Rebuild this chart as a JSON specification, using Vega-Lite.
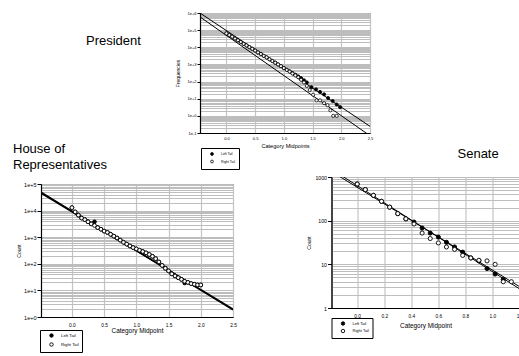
{
  "$schema": "https://vega.github.io/schema/vega-lite/v6.json",
  "padding": {"left": 12, "top": 10, "right": 0, "bottom": 0},
  "background": "white",
  "config": {
    "font": "Liberation Sans",
    "view": {"stroke": "#555555", "strokeWidth": 1},
    "axis": {"labelColor": "black", "titleColor": "black", "titleFontWeight": "normal", "domainColor": "black", "domainWidth": 1.2, "tickColor": "black", "tickWidth": 1, "labelFlush": false, "labelOverlap": false, "labelBound": false, "labelFont": "Liberation Sans", "titleFont": "Liberation Sans"},
    "title": {"fontWeight": "normal", "fontSize": 13, "color": "black", "font": "Liberation Sans"},
    "legend": {"labelColor": "black", "labelFont": "Liberation Sans"}
  },
  "datasets": {
    "presPts": [
      {"x":0,"count":64570,"tail":"Left Tail"},{"x":0.05,"count":51290,"tail":"Left Tail"},{"x":0.1,"count":41690,"tail":"Left Tail"},{"x":0.15,"count":32360,"tail":"Left Tail"},{"x":0.2,"count":25700,"tail":"Left Tail"},{"x":0.25,"count":20420,"tail":"Left Tail"},{"x":0.3,"count":15850,"tail":"Left Tail"},{"x":0.35,"count":12880,"tail":"Left Tail"},{"x":0.4,"count":10230,"tail":"Left Tail"},{"x":0.45,"count":8128,"tail":"Left Tail"},{"x":0.5,"count":6457,"tail":"Left Tail"},{"x":0.55,"count":5012,"tail":"Left Tail"},{"x":0.6,"count":4074,"tail":"Left Tail"},{"x":0.65,"count":3162,"tail":"Left Tail"},{"x":0.7,"count":2570,"tail":"Left Tail"},{"x":0.75,"count":1995,"tail":"Left Tail"},{"x":0.8,"count":1585,"tail":"Left Tail"},{"x":0.85,"count":1259,"tail":"Left Tail"},{"x":0.9,"count":1000,"tail":"Left Tail"},{"x":0.95,"count":794,"tail":"Left Tail"},{"x":1.0,"count":617,"tail":"Left Tail"},{"x":1.05,"count":490,"tail":"Left Tail"},{"x":1.1,"count":398,"tail":"Left Tail"},{"x":1.15,"count":316,"tail":"Left Tail"},{"x":1.2,"count":251,"tail":"Left Tail"},{"x":1.25,"count":200,"tail":"Left Tail"},{"x":1.3,"count":158,"tail":"Left Tail"},{"x":1.35,"count":120,"tail":"Left Tail"},{"x":1.4,"count":89,"tail":"Left Tail"},{"x":1.48,"count":47,"tail":"Left Tail"},{"x":1.56,"count":35,"tail":"Left Tail"},{"x":1.63,"count":25,"tail":"Left Tail"},{"x":1.7,"count":18,"tail":"Left Tail"},{"x":1.77,"count":11,"tail":"Left Tail"},{"x":1.85,"count":7.4,"tail":"Left Tail"},{"x":1.92,"count":4.6,"tail":"Left Tail"},{"x":1.98,"count":3.2,"tail":"Left Tail"},
      {"x":0,"count":64570,"tail":"Right Tail"},{"x":0.05,"count":51290,"tail":"Right Tail"},{"x":0.1,"count":41690,"tail":"Right Tail"},{"x":0.15,"count":32360,"tail":"Right Tail"},{"x":0.2,"count":25700,"tail":"Right Tail"},{"x":0.25,"count":20420,"tail":"Right Tail"},{"x":0.3,"count":15850,"tail":"Right Tail"},{"x":0.35,"count":12880,"tail":"Right Tail"},{"x":0.4,"count":10230,"tail":"Right Tail"},{"x":0.45,"count":8128,"tail":"Right Tail"},{"x":0.5,"count":6457,"tail":"Right Tail"},{"x":0.55,"count":5012,"tail":"Right Tail"},{"x":0.6,"count":4074,"tail":"Right Tail"},{"x":0.65,"count":3162,"tail":"Right Tail"},{"x":0.7,"count":2570,"tail":"Right Tail"},{"x":0.75,"count":1995,"tail":"Right Tail"},{"x":0.8,"count":1585,"tail":"Right Tail"},{"x":0.85,"count":1259,"tail":"Right Tail"},{"x":0.9,"count":1000,"tail":"Right Tail"},{"x":0.95,"count":794,"tail":"Right Tail"},{"x":1.0,"count":617,"tail":"Right Tail"},{"x":1.05,"count":479,"tail":"Right Tail"},{"x":1.1,"count":380,"tail":"Right Tail"},{"x":1.15,"count":295,"tail":"Right Tail"},{"x":1.2,"count":229,"tail":"Right Tail"},{"x":1.25,"count":178,"tail":"Right Tail"},{"x":1.3,"count":126,"tail":"Right Tail"},{"x":1.35,"count":89,"tail":"Right Tail"},{"x":1.4,"count":56,"tail":"Right Tail"},{"x":1.45,"count":32,"tail":"Right Tail"},{"x":1.51,"count":17,"tail":"Right Tail"},{"x":1.57,"count":8,"tail":"Right Tail"},{"x":1.63,"count":8,"tail":"Right Tail"},{"x":1.7,"count":5.5,"tail":"Right Tail"},{"x":1.76,"count":4.2,"tail":"Right Tail"},{"x":1.81,"count":2.1,"tail":"Right Tail"},{"x":1.86,"count":1,"tail":"Right Tail"},{"x":1.92,"count":1,"tail":"Right Tail"}
    ],
    "presFit": [
      {"x":-0.46,"count":1000000,"fit":"a"},{"x":2.5,"count":0.245,"fit":"a"},
      {"x":-0.46,"count":588800,"fit":"b"},{"x":2.5,"count":0.0692,"fit":"b"}
    ],
    "housePts": [
      {"x":0,"count":12880,"tail":"Left Tail"},{"x":0.05,"count":8913,"tail":"Left Tail"},{"x":0.1,"count":6761,"tail":"Left Tail"},{"x":0.15,"count":5248,"tail":"Left Tail"},{"x":0.2,"count":4571,"tail":"Left Tail"},{"x":0.25,"count":3802,"tail":"Left Tail"},{"x":0.3,"count":3162,"tail":"Left Tail"},{"x":0.35,"count":3802,"tail":"Left Tail"},{"x":0.4,"count":2291,"tail":"Left Tail"},{"x":0.45,"count":1995,"tail":"Left Tail"},{"x":0.5,"count":1698,"tail":"Left Tail"},{"x":0.55,"count":1514,"tail":"Left Tail"},{"x":0.6,"count":1288,"tail":"Left Tail"},{"x":0.65,"count":1096,"tail":"Left Tail"},{"x":0.7,"count":933,"tail":"Left Tail"},{"x":0.75,"count":776,"tail":"Left Tail"},{"x":0.8,"count":646,"tail":"Left Tail"},{"x":0.85,"count":550,"tail":"Left Tail"},{"x":0.9,"count":468,"tail":"Left Tail"},{"x":0.95,"count":407,"tail":"Left Tail"},{"x":1.0,"count":363,"tail":"Left Tail"},{"x":1.05,"count":324,"tail":"Left Tail"},{"x":1.1,"count":288,"tail":"Left Tail"},{"x":1.15,"count":257,"tail":"Left Tail"},{"x":1.2,"count":224,"tail":"Left Tail"},{"x":1.25,"count":191,"tail":"Left Tail"},{"x":1.3,"count":155,"tail":"Left Tail"},{"x":1.35,"count":117,"tail":"Left Tail"},{"x":1.4,"count":87,"tail":"Left Tail"},{"x":1.45,"count":68,"tail":"Left Tail"},{"x":1.5,"count":54,"tail":"Left Tail"},{"x":1.55,"count":42,"tail":"Left Tail"},{"x":1.6,"count":35,"tail":"Left Tail"},{"x":1.65,"count":30,"tail":"Left Tail"},{"x":1.7,"count":26,"tail":"Left Tail"},{"x":1.75,"count":19,"tail":"Left Tail"},{"x":1.8,"count":20,"tail":"Left Tail"},{"x":1.85,"count":18,"tail":"Left Tail"},{"x":1.9,"count":17,"tail":"Left Tail"},{"x":1.95,"count":16,"tail":"Left Tail"},{"x":2.0,"count":16,"tail":"Left Tail"},
      {"x":0,"count":12880,"tail":"Right Tail"},{"x":0.05,"count":8913,"tail":"Right Tail"},{"x":0.1,"count":6761,"tail":"Right Tail"},{"x":0.15,"count":5248,"tail":"Right Tail"},{"x":0.2,"count":4571,"tail":"Right Tail"},{"x":0.25,"count":3802,"tail":"Right Tail"},{"x":0.3,"count":3162,"tail":"Right Tail"},{"x":0.35,"count":2754,"tail":"Right Tail"},{"x":0.4,"count":2291,"tail":"Right Tail"},{"x":0.45,"count":1995,"tail":"Right Tail"},{"x":0.5,"count":1698,"tail":"Right Tail"},{"x":0.55,"count":1514,"tail":"Right Tail"},{"x":0.6,"count":1288,"tail":"Right Tail"},{"x":0.65,"count":1096,"tail":"Right Tail"},{"x":0.7,"count":933,"tail":"Right Tail"},{"x":0.75,"count":776,"tail":"Right Tail"},{"x":0.8,"count":646,"tail":"Right Tail"},{"x":0.85,"count":550,"tail":"Right Tail"},{"x":0.9,"count":468,"tail":"Right Tail"},{"x":0.95,"count":407,"tail":"Right Tail"},{"x":1.0,"count":363,"tail":"Right Tail"},{"x":1.05,"count":324,"tail":"Right Tail"},{"x":1.1,"count":288,"tail":"Right Tail"},{"x":1.15,"count":257,"tail":"Right Tail"},{"x":1.2,"count":224,"tail":"Right Tail"},{"x":1.25,"count":191,"tail":"Right Tail"},{"x":1.3,"count":155,"tail":"Right Tail"},{"x":1.35,"count":117,"tail":"Right Tail"},{"x":1.4,"count":87,"tail":"Right Tail"},{"x":1.45,"count":68,"tail":"Right Tail"},{"x":1.5,"count":54,"tail":"Right Tail"},{"x":1.55,"count":42,"tail":"Right Tail"},{"x":1.6,"count":35,"tail":"Right Tail"},{"x":1.65,"count":30,"tail":"Right Tail"},{"x":1.7,"count":26,"tail":"Right Tail"},{"x":1.75,"count":22,"tail":"Right Tail"},{"x":1.8,"count":20,"tail":"Right Tail"},{"x":1.85,"count":18,"tail":"Right Tail"},{"x":1.9,"count":17,"tail":"Right Tail"},{"x":1.95,"count":16,"tail":"Right Tail"},{"x":2.0,"count":16,"tail":"Right Tail"}
    ],
    "houseFit": [
      {"x":-0.48,"count":48980,"fit":"a"},{"x":2.5,"count":1.862,"fit":"a"},
      {"x":-0.48,"count":45709,"fit":"b"},{"x":2.5,"count":1.995,"fit":"b"}
    ],
    "senPts": [
      {"x":0,"count":690,"tail":"Left Tail"},{"x":0.06,"count":515,"tail":"Left Tail"},{"x":0.12,"count":380,"tail":"Left Tail"},{"x":0.18,"count":277,"tail":"Left Tail"},{"x":0.24,"count":204,"tail":"Left Tail"},{"x":0.3,"count":145,"tail":"Left Tail"},{"x":0.36,"count":110,"tail":"Left Tail"},{"x":0.42,"count":93,"tail":"Left Tail"},{"x":0.48,"count":68,"tail":"Left Tail"},{"x":0.54,"count":52,"tail":"Left Tail"},{"x":0.6,"count":42,"tail":"Left Tail"},{"x":0.66,"count":32,"tail":"Left Tail"},{"x":0.72,"count":25,"tail":"Left Tail"},{"x":0.78,"count":19,"tail":"Left Tail"},{"x":0.84,"count":14,"tail":"Left Tail"},{"x":0.9,"count":12,"tail":"Left Tail"},{"x":0.96,"count":8,"tail":"Left Tail"},{"x":1.02,"count":6,"tail":"Left Tail"},{"x":1.08,"count":4.5,"tail":"Left Tail"},
      {"x":0,"count":690,"tail":"Right Tail"},{"x":0.06,"count":515,"tail":"Right Tail"},{"x":0.12,"count":380,"tail":"Right Tail"},{"x":0.18,"count":277,"tail":"Right Tail"},{"x":0.24,"count":204,"tail":"Right Tail"},{"x":0.3,"count":145,"tail":"Right Tail"},{"x":0.36,"count":110,"tail":"Right Tail"},{"x":0.42,"count":84,"tail":"Right Tail"},{"x":0.48,"count":52,"tail":"Right Tail"},{"x":0.54,"count":39,"tail":"Right Tail"},{"x":0.6,"count":31,"tail":"Right Tail"},{"x":0.66,"count":25,"tail":"Right Tail"},{"x":0.72,"count":22,"tail":"Right Tail"},{"x":0.78,"count":16,"tail":"Right Tail"},{"x":0.84,"count":14,"tail":"Right Tail"},{"x":0.9,"count":12.4,"tail":"Right Tail"},{"x":0.96,"count":12,"tail":"Right Tail"},{"x":1.02,"count":10,"tail":"Right Tail"},{"x":1.08,"count":4,"tail":"Right Tail"},{"x":1.14,"count":4,"tail":"Right Tail"}
    ],
    "senFit": [
      {"x":-0.19,"count":1334,"fit":"a"},{"x":1.2,"count":3.09,"fit":"a"},
      {"x":-0.19,"count":1503,"fit":"b"},{"x":1.2,"count":2.75,"fit":"b"}
    ]
  },
  "bounds": "flush",
  "spacing": 164,
  "resolve": {"scale": {"fill": "independent"}, "legend": {"fill": "independent"}},
  "vconcat": [
    {
      "bounds": "flush",
      "spacing": 0,
      "resolve": {"scale": {"fill": "independent"}, "legend": {"fill": "independent"}},
      "hconcat": [
        {"width": 159, "height": 1, "data": {"values": []}, "mark": {"type": "point", "opacity": 0}, "view": {"stroke": null}},
        {
          "width": 170, "height": 120,
          "title": {"text": "President", "anchor": "start", "frame": "group", "dx": -114, "dy": 37, "offset": 0},
          "encoding": {
            "x": {"field": "x", "type": "quantitative", "scale": {"domain": [-0.46, 2.5], "nice": false, "zero": false},
              "axis": {"values": [0, 0.5, 1, 1.5, 2, 2.5], "format": ".1f", "title": "Category Midpoints", "titleFontSize": 5.6, "labelFontSize": 4, "ticks": false, "labelPadding": 3, "titlePadding": 3, "grid": true, "gridColor": "#c4c4c4", "gridWidth": 1.2}},
            "y": {"field": "count", "type": "quantitative", "scale": {"type": "log", "domain": [0.1, 1000000], "nice": false},
              "axis": {"values": [0.1,0.2,0.3,0.4,0.5,0.6,0.7,0.8,0.9,1,2,3,4,5,6,7,8,9,10,20,30,40,50,60,70,80,90,100,200,300,400,500,600,700,800,900,1000,2000,3000,4000,5000,6000,7000,8000,9000,10000,20000,30000,40000,50000,60000,70000,80000,90000,100000,200000,300000,400000,500000,600000,700000,800000,900000,1000000],
                "labelExpr": "abs(log(datum.value)/LN10 - round(log(datum.value)/LN10)) < 0.001 ? '1e' + (datum.value < 1 ? '-' : '+') + abs(round(log(datum.value)/LN10)) : ''",
                "tickOpacity": {"condition": {"test": "abs(log(datum.value)/LN10 - round(log(datum.value)/LN10)) < 0.001", "value": 1}, "value": 0},
                "tickSize": 3, "labelPadding": 1, "labelFontSize": 4, "title": "Frequencies", "titleFontSize": 5, "titlePadding": 6, "grid": true, "gridColor": "#bdbdbd", "gridWidth": 1}}
          },
          "layer": [
            {"data": {"name": "presFit"}, "mark": {"type": "line", "color": "black", "strokeWidth": 1, "clip": true}, "encoding": {"detail": {"field": "fit"}}},
            {"data": {"name": "presPts"}, "mark": {"type": "point", "shape": "circle", "stroke": "black", "strokeWidth": 0.8, "opacity": 1, "size": 10},
              "encoding": {"fill": {"field": "tail", "type": "nominal", "scale": {"domain": ["Left Tail", "Right Tail"], "range": ["black", "white"]},
                "legend": {"title": null, "orient": "none", "legendX": 1, "legendY": 135, "padding": 4, "strokeColor": "black", "fillColor": "white", "symbolType": "circle", "symbolSize": 8, "symbolStrokeColor": "black", "symbolStrokeWidth": 0.8, "symbolOffset": 5, "labelFontSize": 3.4, "labelOffset": 7, "rowPadding": -0.5, "labelExpr": "datum.label + '    '"}}}}
          ]
        }
      ]
    },
    {
      "spacing": 68.5,
      "resolve": {"scale": {"fill": "independent"}, "legend": {"fill": "independent"}},
      "hconcat": [
        {
          "bounds": "flush",
          "spacing": 6,
          "vconcat": [
            {"width": 1, "height": 1, "data": {"values": []}, "mark": {"type": "point", "opacity": 0}, "view": {"stroke": null}},
            {
              "width": 192, "height": 133,
              "title": {"text": ["House of", "Representatives"], "anchor": "start", "frame": "group", "dx": -28, "offset": 10, "lineHeight": 16},
              "encoding": {
                "x": {"field": "x", "type": "quantitative", "scale": {"domain": [-0.48, 2.5], "nice": false, "zero": false},
                  "axis": {"values": [0, 0.5, 1, 1.5, 2, 2.5], "format": ".1f", "title": "Category Midpoint", "titleFontSize": 6.4, "labelFontSize": 4.8, "ticks": false, "labelPadding": 5, "titlePadding": 1, "grid": true, "gridColor": "#c4c4c4", "gridWidth": 1.2}},
                "y": {"field": "count", "type": "quantitative", "scale": {"type": "log", "domain": [1, 100000], "nice": false},
                  "axis": {"values": [1,2,3,4,5,6,7,8,9,10,20,30,40,50,60,70,80,90,100,200,300,400,500,600,700,800,900,1000,2000,3000,4000,5000,6000,7000,8000,9000,10000,20000,30000,40000,50000,60000,70000,80000,90000,100000],
                    "labelExpr": "abs(log(datum.value)/LN10 - round(log(datum.value)/LN10)) < 0.001 ? '1e' + (datum.value < 1 ? '-' : '+') + abs(round(log(datum.value)/LN10)) : ''",
                    "tickOpacity": {"condition": {"test": "abs(log(datum.value)/LN10 - round(log(datum.value)/LN10)) < 0.001", "value": 1}, "value": 0},
                    "tickSize": 4, "labelPadding": 1, "labelFontSize": 5.5, "title": "Count", "titleFontSize": 5, "titlePadding": 2, "grid": true, "gridColor": "#bdbdbd", "gridWidth": 1}}
              },
              "layer": [
                {"data": {"name": "houseFit"}, "mark": {"type": "line", "color": "black", "strokeWidth": 1.5, "clip": true}, "encoding": {"detail": {"field": "fit"}}},
                {"data": {"name": "housePts"}, "mark": {"type": "point", "shape": "circle", "stroke": "black", "strokeWidth": 0.9, "opacity": 1, "size": 14},
                  "encoding": {"fill": {"field": "tail", "type": "nominal", "scale": {"domain": ["Left Tail", "Right Tail"], "range": ["black", "white"]},
                    "legend": {"title": null, "orient": "none", "legendX": -1, "legendY": 153, "padding": 3, "strokeColor": "black", "fillColor": "white", "symbolType": "circle", "symbolSize": 12, "symbolStrokeColor": "black", "symbolStrokeWidth": 0.9, "symbolOffset": 6, "labelFontSize": 4.3, "labelOffset": 7, "rowPadding": 0, "labelExpr": "datum.label + '    '"}}}}
              ]
            }
          ]
        },
        {
          "width": 188, "height": 131,
          "title": {"text": "Senate", "anchor": "start", "frame": "group", "dx": 126, "offset": 14},
          "encoding": {
            "x": {"field": "x", "type": "quantitative", "scale": {"domain": [-0.19, 1.2], "nice": false, "zero": false},
              "axis": {"values": [0, 0.2, 0.4, 0.6, 0.8, 1.0, 1.2], "format": ".1f", "title": "Category Midpoint", "titleFontSize": 6.4, "labelFontSize": 4.8, "ticks": false, "labelPadding": 5, "titlePadding": 5, "grid": true, "gridColor": "#c4c4c4", "gridWidth": 1.2}},
            "y": {"field": "count", "type": "quantitative", "scale": {"type": "log", "domain": [1, 1000], "nice": false},
              "axis": {"values": [1,2,3,4,5,6,7,8,9,10,20,30,40,50,60,70,80,90,100,200,300,400,500,600,700,800,900,1000],
                "labelExpr": "abs(log(datum.value)/LN10 - round(log(datum.value)/LN10)) < 0.001 ? format(datum.value, 'd') : ''",
                "tickOpacity": {"condition": {"test": "abs(log(datum.value)/LN10 - round(log(datum.value)/LN10)) < 0.001", "value": 1}, "value": 0},
                "tickSize": 4, "labelPadding": 1, "labelFontSize": 5.2, "title": "Count", "titleFontSize": 5, "titlePadding": 3, "grid": true, "gridColor": "#bdbdbd", "gridWidth": 1}}
          },
          "layer": [
            {"data": {"name": "senFit"}, "mark": {"type": "line", "color": "black", "strokeWidth": 1, "clip": true}, "encoding": {"detail": {"field": "fit"}}},
            {"data": {"name": "senPts"}, "mark": {"type": "point", "shape": "circle", "stroke": "black", "strokeWidth": 0.9, "opacity": 1, "size": 17},
              "encoding": {"fill": {"field": "tail", "type": "nominal", "scale": {"domain": ["Left Tail", "Right Tail"], "range": ["black", "white"]},
                "legend": {"title": null, "orient": "none", "legendX": 0, "legendY": 141, "padding": 3, "strokeColor": "black", "fillColor": "white", "symbolType": "circle", "symbolSize": 12, "symbolStrokeColor": "black", "symbolStrokeWidth": 0.9, "symbolOffset": 6, "labelFontSize": 4, "labelOffset": 7, "rowPadding": -1.5, "labelExpr": "datum.label + '    '"}}}}
          ]
        }
      ]
    }
  ]
}
